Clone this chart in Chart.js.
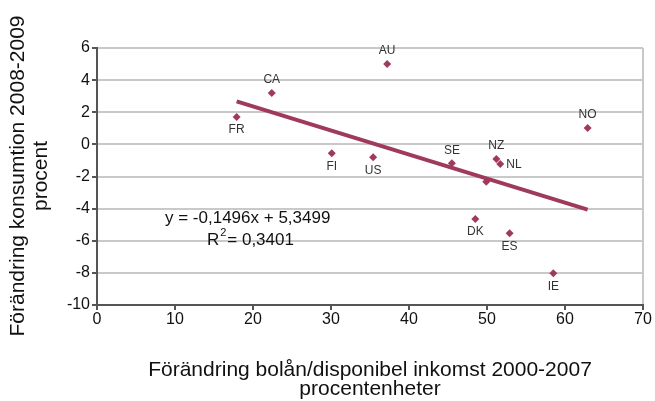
<!DOCTYPE html>
<html>
<head>
<meta charset="utf-8">
<script src="https://cdn.jsdelivr.net/npm/chart.js@4"></script>
<style>
  html, body { margin: 0; padding: 0; background: #fff; }
  #chart { display: block; }
</style>
</head>
<body>
<canvas id="chart" width="655" height="401"></canvas>
<script>
// countries and their values
const countries = ['FR', 'CA', 'AU', 'FI', 'US', 'SE', 'NZ', 'NL', 'NO', '', 'DK', 'ES', 'IE'];
const mortgageChange = [17.9, 22.4, 37.2, 30.1, 35.4, 45.5, 51.2, 51.7, 62.9, 49.9, 48.5, 52.9, 58.5];
const consumptionChange = [1.7, 3.2, 5.0, -0.56, -0.8, -1.18, -0.91, -1.22, 1.02, -2.32, -4.65, -5.54, -8.03];

// label placement relative to each point
const labelPos = ['below', 'above', 'above', 'below', 'below', 'above', 'above', 'right', 'above', 'none', 'below', 'below', 'below'];

// trend line from the regression shown on the chart
const slope = -0.1496;
const intercept = 5.3499;
const trendText = 'y = -0,1496x + 5,3499';
const r2Text = '0,3401';

const xTicks = [0, 10, 20, 30, 40, 50, 60, 70];
const yTicks = [-10, -8, -6, -4, -2, 0, 2, 4, 6];

const xTitle = ['Förändring bolån/disponibel inkomst 2000-2007', 'procentenheter'];
const yTitle = ['Förändring konsumtion 2008-2009', 'procent'];

const RED = '#a03a5b';
const GRID = '#c9c9c9';
const AXIS = '#555555';
const FONT = '"Liberation Sans", Arial, sans-serif';

const points = mortgageChange.map((x, i) => ({ x: x, y: consumptionChange[i] }));
const xMin = Math.min(...mortgageChange);
const xMax = Math.max(...mortgageChange);
const trend = [
    { x: xMin, y: slope * xMin + intercept },
    { x: xMax, y: slope * xMax + intercept }
];

// labels next to the points, plus titles and the equation
const textPlugin = {
    id: 'texts',
    afterDatasetsDraw(chart) {
        const ctx = chart.ctx;
        const meta = chart.getDatasetMeta(1);
        ctx.save();
        ctx.fillStyle = '#333';
        ctx.font = '12px ' + FONT;
        ctx.textBaseline = 'middle';
        meta.data.forEach((el, i) => {
            const pos = labelPos[i];
            if (pos === 'none' || !countries[i]) return;
            if (pos === 'above') {
                ctx.textAlign = 'center';
                ctx.fillText(countries[i], el.x, el.y - 13);
            } else if (pos === 'below') {
                ctx.textAlign = 'center';
                ctx.fillText(countries[i], el.x, el.y + 13);
            } else {
                ctx.textAlign = 'left';
                ctx.fillText(countries[i], el.x + 6, el.y + 1);
            }
        });

        // regression equation
        ctx.fillStyle = '#111';
        ctx.font = '17px ' + FONT;
        ctx.textAlign = 'left';
        ctx.fillText(trendText, 165, 218);
        ctx.fillText('R', 207, 240);
        const rw = ctx.measureText('R').width;
        ctx.font = '11px ' + FONT;
        ctx.fillText('2', 207 + rw + 1, 233);
        ctx.font = '17px ' + FONT;
        ctx.fillText('= ' + r2Text, 207 + rw + 8, 240);

        // axis titles
        ctx.font = '21px ' + FONT;
        ctx.textAlign = 'center';
        ctx.fillText(xTitle[0], 370, 370);
        ctx.fillText(xTitle[1], 370, 389);

        ctx.translate(18, 176);
        ctx.rotate(-Math.PI / 2);
        ctx.fillText(yTitle[0], 0, 0);
        ctx.fillText(yTitle[1], 0, 23);
        ctx.restore();
    }
};

new Chart(document.getElementById('chart'), {
    type: 'scatter',
    data: {
        datasets: [
            {
                type: 'line',
                data: trend,
                borderColor: RED,
                borderWidth: 4,
                pointRadius: 0,
                fill: false,
                order: 1
            },
            {
                data: points,
                backgroundColor: RED,
                borderColor: RED,
                pointStyle: 'rectRot',
                pointRadius: 4,
                borderWidth: 0,
                order: 0
            }
        ]
    },
    options: {
        responsive: false,
        animation: false,
        layout: { padding: { top: 48, right: 12, left: 0, bottom: 0 } },
        plugins: {
            legend: { display: false },
            tooltip: { enabled: false }
        },
        scales: {
            x: {
                type: 'linear',
                min: 0,
                max: 70,
                afterFit: (s) => { s.height = 96; },
                afterBuildTicks: (s) => { s.ticks = xTicks.map(v => ({ value: v })); },
                grid: {
                    color: (c) => (c.tick && c.tick.value === 70 ? GRID : 'rgba(0,0,0,0)'),
                    lineWidth: 2,
                    tickColor: AXIS,
                    tickLength: 5
                },
                border: { color: AXIS, width: 2 },
                ticks: {
                    color: '#111',
                    font: { family: FONT, size: 16 },
                    padding: 0,
                    maxRotation: 0
                }
            },
            y: {
                type: 'linear',
                min: -10,
                max: 6,
                afterFit: (s) => { s.width = 97; },
                afterBuildTicks: (s) => { s.ticks = yTicks.map(v => ({ value: v })); },
                grid: {
                    color: (c) => (c.tick && c.tick.value === -10 ? 'rgba(0,0,0,0)' : GRID),
                    lineWidth: 2,
                    tickColor: AXIS,
                    tickLength: 5
                },
                border: { color: AXIS, width: 2 },
                ticks: {
                    color: '#111',
                    font: { family: FONT, size: 16 },
                    padding: 2
                }
            }
        }
    },
    plugins: [textPlugin]
});
</script>
</body>
</html>
